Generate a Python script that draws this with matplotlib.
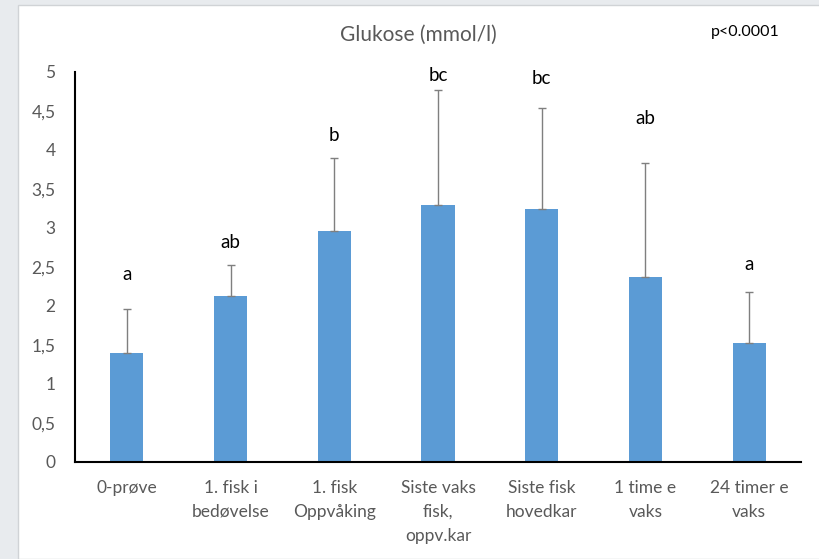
import numpy as np
import matplotlib.pyplot as plt
from matplotlib.patches import Rectangle
from matplotlib.ticker import FuncFormatter

# -----------------------------
# Data
# -----------------------------
categories = ["0-prøve", "1. fisk i\nbedøvelse", "1. fisk\nOppvåking",
              "Siste vaks\nfisk,\noppv.kar", "Siste fisk\nhovedkar",
              "1 time e\nvaks", "24 timer e\nvaks"]
means = [1.40, 2.13, 2.96, 3.29, 3.24, 2.37, 1.53]
upper = [1.96, 2.53, 3.90, 4.77, 4.54, 3.83, 2.18]   # top of error bar
letters = ["a", "ab", "b", "bc", "bc", "ab", "a"]
letter_y = [2.40, 2.81, 4.19, 4.96, 4.92, 4.41, 2.53]

plt.rcParams['font.family'] = ['Lato', 'DejaVu Sans']

fig = plt.figure(figsize=(8.19, 5.59), dpi=100, facecolor="#e8ebee")
# white chart area inside the grey screenshot frame
fig.patches.append(Rectangle((18 / 819, 0), 1, 1 - 5 / 559, transform=fig.transFigure,
                             facecolor="white", edgecolor="#d0d3d6", linewidth=1,
                             zorder=-10))

ax = fig.add_axes([75 / 819, 1 - 462 / 559, (801 - 75) / 819, (462 - 72) / 559])
ax.set_facecolor("none")

x = np.arange(len(categories))
err = np.array(upper) - np.array(means)
ax.bar(x, means, width=0.32, color="#5b9bd5", zorder=2)
ax.errorbar(x, means, yerr=[np.zeros_like(err), err], fmt="none",
            ecolor="#7f7f7f", elinewidth=1, capsize=3, capthick=1, zorder=3)

for xi, lab, ly in zip(x, letters, letter_y):
    ax.text(xi, ly, lab, ha="center", va="center", fontsize=13.5, color="black")

ax.set_xlim(-0.5, len(categories) - 0.5)
ax.set_ylim(0, 5)
ax.set_yticks(np.arange(0, 5.01, 0.5))
ax.yaxis.set_major_formatter(FuncFormatter(lambda v, p: f"{v:g}".replace(".", ",")))
ax.set_xticks(x)
ax.set_xticklabels(categories, linespacing=1.6)

ax.tick_params(axis="y", length=0, pad=14, labelsize=12.5, labelcolor="#595959")
ax.tick_params(axis="x", length=0, pad=13, labelsize=12.5, labelcolor="#595959")

for s in ["top", "right"]:
    ax.spines[s].set_visible(False)
for s in ["left", "bottom"]:
    ax.spines[s].set_linewidth(1.5)
    ax.spines[s].set_color("black")

fig.text(418 / 819, 1 - 35 / 559, "Glukose (mmol/l)", ha="center", va="center",
         fontsize=15, color="#595959")
fig.text(745 / 819, 1 - 32 / 559, "p<0.0001", ha="center", va="center",
         fontsize=11.5, color="black")

fig.savefig("out.png", dpi=100, facecolor=fig.get_facecolor())
